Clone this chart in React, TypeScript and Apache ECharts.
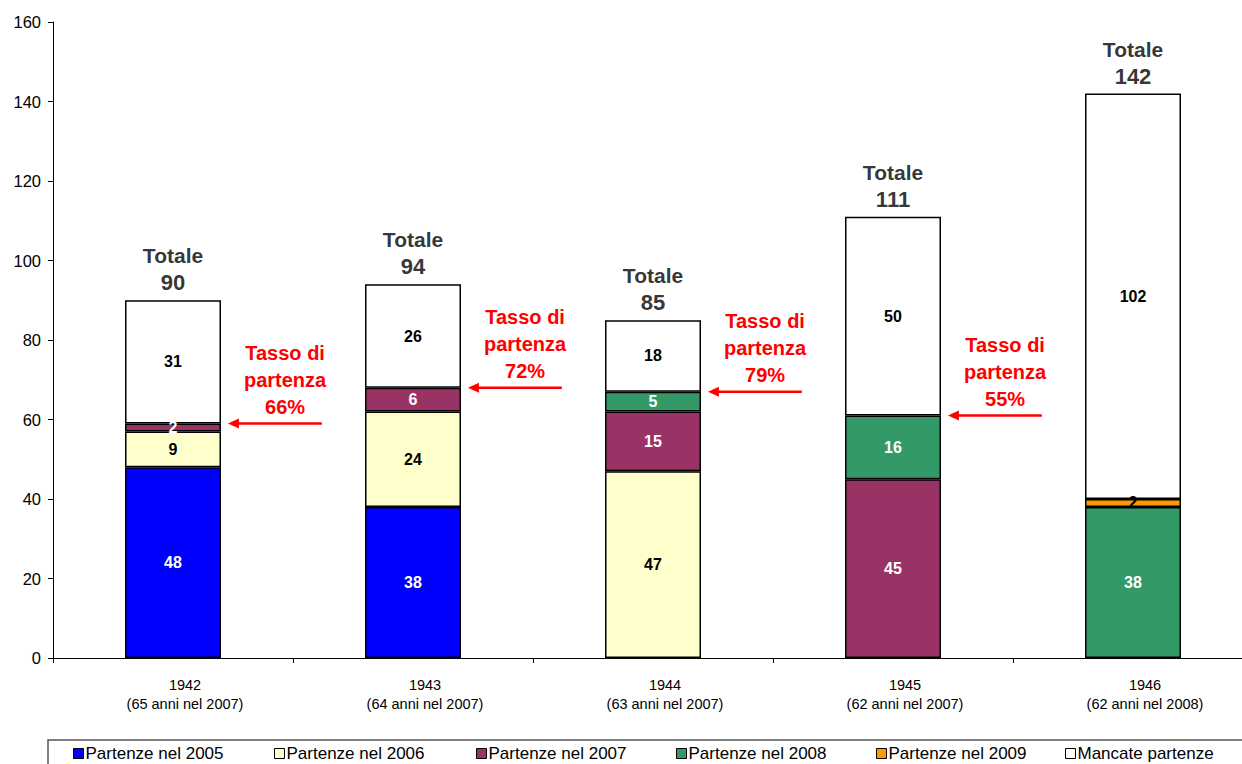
import React, { useEffect, useRef } from "react";
import * as echarts from "echarts";

const categories = [
  "1942\n(65 anni nel 2007)",
  "1943\n(64 anni nel 2007)",
  "1944\n(63 anni nel 2007)",
  "1945\n(62 anni nel 2007)",
  "1946\n(62 anni nel 2008)",
];
const seriesNames = [
  "Partenze nel 2005",
  "Partenze nel 2006",
  "Partenze nel 2007",
  "Partenze nel 2008",
  "Partenze nel 2009",
  "Mancate partenze",
];
const p2005 = [48, 38, 0, 0, 0];
const p2006 = [9, 24, 47, 0, 0];
const p2007 = [2, 6, 15, 45, 0];
const p2008 = [0, 0, 5, 16, 38];
const p2009 = [0, 0, 0, 0, 2];
const mancate = [31, 26, 18, 50, 102];
const totals = [90, 94, 85, 111, 142];
const departed = [59, 68, 67, 61];
const rates = ["66%", "72%", "79%", "55%"];
const yTicks = { min: 0, max: 160, interval: 20 };

const colors = ["#0000FF", "#FFFFCC", "#993366", "#339966", "#FF9900", "#FFFFFF"];
const labelColors = ["#FFFFFF", "#000000", "#FFFFFF", "#FFFFFF", "#000000", "#000000"];
const legendLefts = [73, 274, 476, 676, 876, 1065];
const FONT = "'Liberation Sans', Arial, Helvetica, sans-serif";

export default function App() {
  const ref = useRef<HTMLDivElement>(null);
  useEffect(() => {
    if (!ref.current) return;
    const chart = echarts.init(ref.current, undefined, { renderer: "svg" });
    const values = [p2005, p2006, p2007, p2008, p2009, mancate];
    const barSeries = values.map((arr, i) => ({
      name: seriesNames[i],
      type: "bar",
      stack: "tot",
      barWidth: "40%",
      data: arr.map((v) => (v ? v : "-")),
      itemStyle: { color: colors[i], borderColor: "#000", borderWidth: 1.5 },
      label: {
        show: true,
        position: "inside",
        color: labelColors[i],
        fontFamily: FONT,
        fontWeight: "bold",
        fontSize: 16,
        formatter: (p: any) => (p.value ? String(p.value) : ""),
      },
      emphasis: { disabled: true },
    }));

    const option: any = {
      animation: false,
      textStyle: { fontFamily: FONT },
      grid: { left: 53, top: 22, width: 1200, height: 636, containLabel: false },
      xAxis: {
        type: "category",
        data: categories,
        axisLine: { lineStyle: { color: "#000", width: 1 } },
        axisTick: { show: true, length: 5, lineStyle: { color: "#000" } },
        axisLabel: {
          color: "#000",
          fontSize: 14.5,
          lineHeight: 19,
          margin: 17,
          padding: [0, 0, 0, 24],
          fontFamily: FONT,
        },
      },
      yAxis: {
        type: "value",
        min: yTicks.min,
        max: yTicks.max,
        interval: yTicks.interval,
        axisLine: { show: true, lineStyle: { color: "#000", width: 1 } },
        axisTick: { show: true, length: 5, lineStyle: { color: "#000" } },
        splitLine: { show: false },
        axisLabel: { color: "#000", fontSize: 16.5, margin: 12, fontFamily: FONT },
      },
      legend: seriesNames.map((n, i) => ({
        data: [n],
        left: legendLefts[i],
        top: 745,
        padding: 0,
        itemWidth: 10,
        itemHeight: 10,
        icon: "rect",
        itemStyle: { borderColor: "#000", borderWidth: 1 },
        textStyle: { color: "#000", fontSize: 17, fontFamily: FONT, padding: [0, 0, 0, -3] },
        selectedMode: false,
      })),
      graphic: [
        {
          type: "rect",
          shape: { x: 48, y: 740, width: 1300, height: 40 },
          style: { fill: "none", stroke: "#555", lineWidth: 1.5 },
          z: -1,
        },
      ],
      series: [
        ...barSeries,
        {
          name: "Totale",
          type: "scatter",
          symbolSize: 0,
          data: totals.map((t, i) => [i, t]),
          label: {
            show: true,
            position: "top",
            distance: 4,
            color: "#000",
            formatter: (p: any) => `{a|Totale}\n{b|${p.value[1]}}`,
            rich: {
              a: { fontSize: 21, fontWeight: "bold", color: "#000", lineHeight: 27, fontFamily: FONT },
              b: { fontSize: 22, fontWeight: "bold", color: "#000", lineHeight: 27, fontFamily: FONT },
            },
          },
          emphasis: { disabled: true },
          z: 5,
        },
        {
          name: "Tasso",
          type: "custom",
          data: departed.map((d, i) => [i, d, i]),
          encode: { x: 0, y: 1 },
          renderItem: (params: any, api: any) => {
            const idx = api.value(2);
            const p = api.coord([api.value(0), api.value(1)]);
            const bw = api.size([1, 0])[0];
            const head = p[0] + bw * 0.229;
            const tail = p[0] + bw * 0.62;
            const y = p[1];
            return {
              type: "group",
              children: [
                {
                  type: "line",
                  shape: { x1: head + 8, y1: y, x2: tail, y2: y },
                  style: { stroke: "#FF0000", lineWidth: 2.5 },
                },
                {
                  type: "polygon",
                  shape: { points: [[head, y], [head + 11, y - 5], [head + 11, y + 5]] },
                  style: { fill: "#FF0000" },
                },
                {
                  type: "text",
                  x: p[0] + bw * 0.467,
                  y: y - 3,
                  style: {
                    text: `Tasso di\npartenza\n${rates[idx]}`,
                    fill: "#FF0000",
                    font: `bold 20px ${FONT}`,
                    lineHeight: 27,
                    align: "center",
                    verticalAlign: "bottom",
                  },
                },
              ],
            };
          },
          z: 6,
        },
      ],
    };
    chart.setOption(option);
    return () => chart.dispose();
  }, []);
  return (
    <div
      ref={ref}
      style={{ position: "fixed", left: 0, top: 0, width: 1270, height: 764, background: "#fff" }}
    />
  );
}
